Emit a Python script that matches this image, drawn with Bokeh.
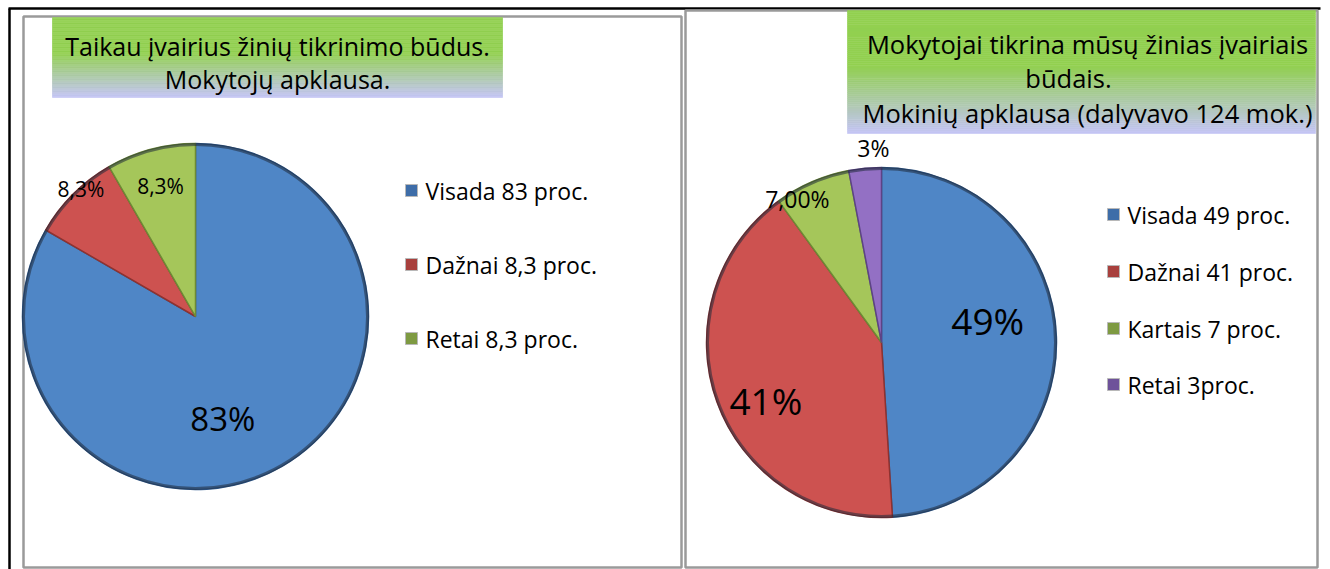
import numpy as np
from bokeh.plotting import figure
from bokeh.models import Range1d, ColumnDataSource
from bokeh.core.properties import value
from bokeh.embed import file_html
from bokeh.resources import INLINE

# ---------------- data ----------------
left_title = ["Taikau įvairius žinių tikrinimo būdus.", "Mokytojų apklausa."]
left_categories = ["Visada 83 proc.", "Dažnai 8,3 proc.", "Retai 8,3 proc."]
left_values = [83, 8.3, 8.3]
left_pct_labels = ["83%", "8,3%", "8,3%"]

right_title = ["Mokytojai tikrina mūsų žinias įvairiais", "būdais.",
               "Mokinių apklausa (dalyvavo 124 mok.)"]
right_categories = ["Visada 49 proc.", "Dažnai 41 proc.", "Kartais 7 proc.", "Retai 3proc."]
right_values = [49, 41, 7, 3]
right_pct_labels = ["49%", "41%", "7,00%", "3%"]

# ---------------- style ----------------
FONT = "Open Sans"
FILLS = ["#4F86C6", "#CD5250", "#A5C65A", "#9370C4"]
EDGES = ["#2F5A8E", "#8E3230", "#6E8A35", "#5D4386"]
LEG_FILLS = ["#3E6DA8", "#A8403D", "#7E9A42", "#6E529A"]
W, H = 1330, 569


def Y(s):
    return H - s


p = figure(width=W, height=H, x_range=Range1d(0, W), y_range=Range1d(0, H),
           output_backend="svg", toolbar_location=None, min_border=0)
p.axis.visible = False
p.grid.visible = False
p.outline_line_color = None
p.background_fill_color = "white"

# outer black lines
p.line(x=[8, 1320], y=[Y(8), Y(8)], line_color="black", line_width=2.5)
p.line(x=[9, 9], y=[Y(8), Y(569)], line_color="black", line_width=2.5)

# panel frames
p.quad(left=23, right=681, top=Y(16), bottom=Y(567), fill_color="white",
       line_color="#9A9A9A", line_width=2.5)
p.quad(left=685, right=1317, top=Y(10), bottom=Y(567), fill_color="white",
       line_color="#9A9A9A", line_width=2.5)


def gradient_box(x0, x1, y0, y1, n=60):
    top = np.array([0x92, 0xD0, 0x50], float)
    bot = np.array([0xC4, 0xC4, 0xF6], float)
    edges = np.linspace(y0, y1, n + 1)
    cols = []
    for i in range(n):
        t = (i + 0.5) / n
        s = 0.0 if t < 0.45 else (t - 0.45) / 0.55
        c = top + (bot - top) * s
        cols.append("#%02x%02x%02x" % tuple(int(round(v)) for v in c))
    p.quad(left=x0, right=x1, top=[Y(e) for e in edges[:-1]],
           bottom=[Y(e) for e in edges[1:]], fill_color=cols, line_color=cols,
           line_width=0.6)


gradient_box(52, 502, 17, 97)
gradient_box(847, 1315, 10, 133)

p.text(x=[277, 277], y=[Y(45), Y(78)], text=left_title, text_align="center",
       text_baseline="middle", text_font=value(FONT), text_font_size="25px", text_color="black")
p.text(x=[1087, 1068, 1087], y=[Y(43), Y(77), Y(112)], text=right_title, text_align="center",
       text_baseline="middle", text_font=value(FONT), text_font_size="25.5px", text_color="black")


def pie(cx, cy, r, values, pct_labels, lab_frac, lab_dang, lab_sizes):
    n = len(values)
    fr = np.concatenate([[0], np.cumsum(values)]) / float(sum(values))
    starts = np.pi / 2 - 2 * np.pi * fr[:-1]
    ends = np.pi / 2 - 2 * np.pi * fr[1:]
    src = ColumnDataSource(dict(x=[cx] * n, y=[Y(cy)] * n, s=starts, e=ends,
                                fill=FILLS[:n], edge=EDGES[:n]))
    p.wedge(x="x", y="y", radius=r, start_angle="s", end_angle="e", direction="clock",
            fill_color="fill", line_color="edge", line_width=1.5, source=src)
    # rim shading
    p.circle(x=cx, y=Y(cy), radius=r - 1, fill_color=None, line_color="#1F2A3A",
             line_alpha=0.55, line_width=3)
    mid = (fr[:-1] + fr[1:]) / 2 * 360 + np.array(lab_dang)
    th = np.radians(mid)
    lx = cx + np.array(lab_frac) * r * np.sin(th)
    ly = Y(cy) + np.array(lab_frac) * r * np.cos(th)
    for i in range(n):
        p.text(x=[lx[i]], y=[ly[i]], text=[pct_labels[i]], text_align="center",
               text_baseline="middle", text_font=value(FONT),
               text_font_size=lab_sizes[i], text_color="black")


def legend(x, ys, labels):
    n = len(labels)
    p.rect(x=[x] * n, y=[Y(v) for v in ys], width=12, height=12,
           fill_color=LEG_FILLS[:n], line_color="#B8B8B8", line_width=1)
    p.text(x=[x + 14] * n, y=[Y(v) for v in ys], text=labels, text_align="left",
           text_baseline="middle", text_font=value(FONT), text_font_size="23px",
           text_color="black")


pie(195, 316, 173, left_values, left_pct_labels, [0.61, 0.99, 0.78], [15, 3, 0],
    ["33px", "21px", "21px"])
pie(881, 342, 175, right_values, right_pct_labels, [0.62, 0.74, 0.95, 1.11], [-10, -7, -7, 3],
    ["37px", "37px", "23px", "23px"])

legend(411, [190, 264, 338], left_categories)
legend(1113, [214, 271, 328, 384], right_categories)

open("out.html", "w").write(file_html(p, INLINE))
